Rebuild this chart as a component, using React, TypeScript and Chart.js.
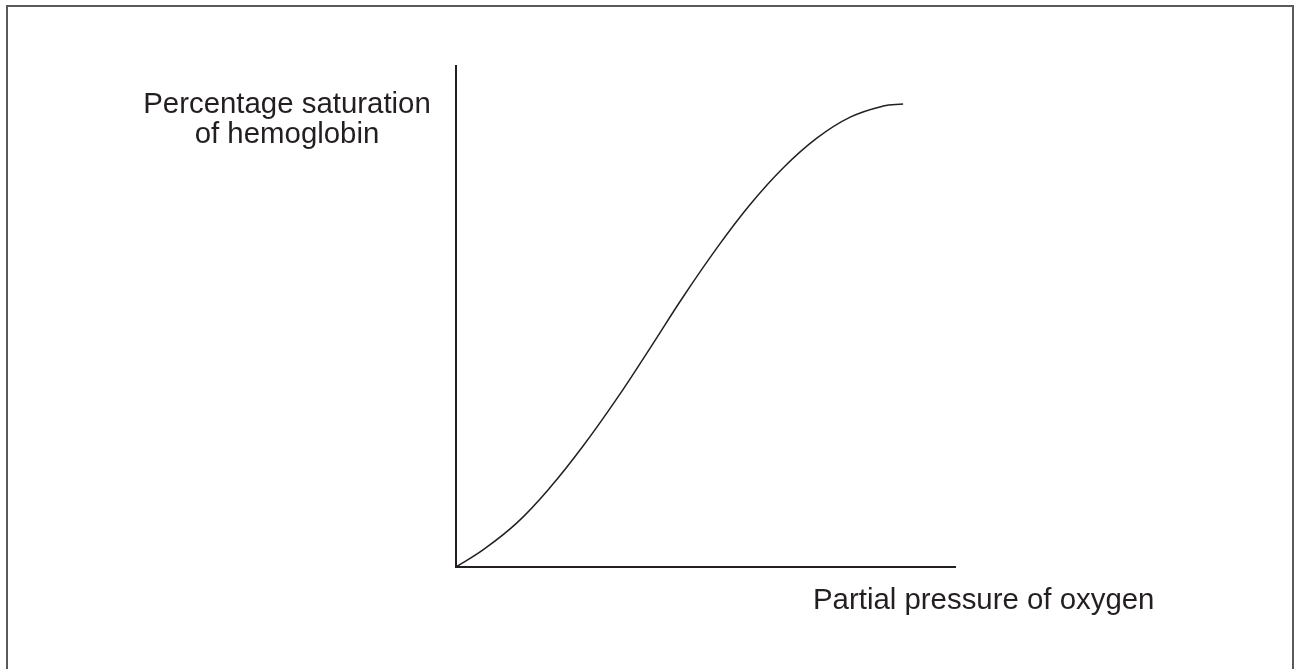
import React, { useEffect, useRef } from "react";
import { Chart, registerables } from "chart.js";

Chart.register(...registerables);

const pressure = [0, 5.4, 12.2, 18.8, 25.5, 32.3, 38.9, 45.5, 52.3, 58.9, 65.5, 72.3, 79.0, 85.6, 89.6];
const saturation = [0, 3.4, 8.8, 15.8, 24.2, 33.7, 43.7, 53.9, 63.7, 72.3, 79.6, 85.6, 89.8, 92.0, 92.4];
const yLabelLines = ["Percentage saturation", "of hemoglobin"];
const xLabel = "Partial pressure of oxygen";

const INK = "#231f20";
const FONT = '29.4px "Liberation Sans", Arial, sans-serif';

const labelPlugin = {
  id: "labels",
  afterDraw(chart: any) {
    const { ctx, chartArea } = chart;
    ctx.save();
    ctx.fillStyle = INK;
    ctx.font = FONT;
    ctx.textBaseline = "alphabetic";
    ctx.textAlign = "center";
    const cx = chartArea.left - 169;
    ctx.fillText(yLabelLines[0], cx, chartArea.top + 47);
    ctx.fillText(yLabelLines[1], cx, chartArea.top + 77);
    ctx.textAlign = "left";
    ctx.fillText(xLabel, chartArea.left + 357, chartArea.bottom + 42);
    ctx.restore();
  },
};

export default function App() {
  const ref = useRef<HTMLCanvasElement>(null);
  useEffect(() => {
    document.body.style.margin = "0";
    const chart = new Chart(ref.current!, {
      type: "line",
      data: {
        datasets: [
          {
            data: pressure.map((p, i) => ({ x: p, y: saturation[i] })),
            borderColor: INK,
            borderWidth: 1.5,
            pointRadius: 0,
            fill: false,
            tension: 0.4,
          },
        ],
      },
      options: {
        animation: false,
        responsive: false,
        maintainAspectRatio: false,
        layout: { padding: { left: 448, top: 66, right: 345, bottom: 94 } },
        plugins: { legend: { display: false }, tooltip: { enabled: false } },
        scales: {
          x: {
            type: "linear",
            min: 0,
            max: 100,
            grid: { display: false },
            ticks: { display: false },
            border: { display: true, color: INK, width: 2 },
          },
          y: {
            type: "linear",
            min: 0,
            max: 100,
            grid: { display: false },
            ticks: { display: false },
            border: { display: true, color: INK, width: 2 },
          },
        },
      },
      plugins: [labelPlugin],
    });
    return () => chart.destroy();
  }, []);
  return (
    <div style={{ position: "relative", width: 1300, height: 669, background: "#fff", overflow: "hidden" }}>
      <div
        style={{
          position: "absolute",
          left: 6,
          top: 5,
          width: 1288,
          height: 680,
          border: "2px solid #5a5a5a",
          boxSizing: "border-box",
        }}
      />
      <canvas ref={ref} width={1300} height={669} style={{ position: "absolute", left: 0, top: 0 }} />
    </div>
  );
}
